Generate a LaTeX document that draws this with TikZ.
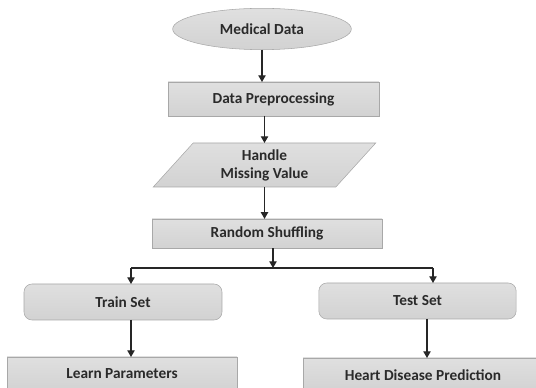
\documentclass[tikz,border=0pt]{standalone}
\usepackage{fontspec}
\setmainfont{Carlito}
\usetikzlibrary{arrows.meta,positioning,shapes.geometric}

\definecolor{boxfill}{HTML}{D2D2D2}
\definecolor{boxline}{HTML}{A8A8A8}
\definecolor{txt}{HTML}{2A2A2A}

\begin{document}
\begin{tikzpicture}[x=0.75pt,y=-0.75pt,
  blk/.style={draw=boxline,top color=boxfill!70,bottom color=boxfill,inner sep=0pt,outer sep=0pt,
    font=\fontsize{11.5}{13.5}\selectfont\bfseries,text=txt,align=center},
  proc/.style={blk,rectangle},
  soft/.style={blk,rectangle,rounded corners=6pt},
  term/.style={blk,ellipse},
  io/.style={blk,trapezium,trapezium left angle=52,trapezium right angle=128,trapezium stretches=true},
  arr/.style={-{Triangle[length=5pt,width=5.5pt]},line width=0.9pt,draw=black!85}]
  \clip (0,0) rectangle (536,388);
  \node[term,minimum width=134pt,minimum height=31pt] (med) at (262,29) {Medical Data};
  \node[proc,minimum width=158pt,minimum height=25.5pt] (prep) at (273.5,99) {Data Preprocessing};
  \node[io,minimum width=167pt,minimum height=33pt] (miss) at (264.5,165) {Handle\\Missing Value};
  \node[proc,minimum width=172.5pt,minimum height=22pt] (shuf) at (267,233.5) {Random Shuffling};
  \node[soft,minimum width=148.5pt,minimum height=27pt] (train) at (123,302) {Train Set};
  \node[soft,minimum width=148pt,minimum height=27pt] (test) at (417.5,301) {Test Set};
  \node[proc,minimum width=172.5pt,minimum height=25.5pt] (learn) at (122,374) {Learn Parameters};
  \node[proc,minimum width=180pt,minimum height=25.5pt] (heart) at (423,375) {Heart Disease Prediction};

  % split point
  \coordinate (jc) at (273,268);
  \coordinate (jl) at (131,268);
  \coordinate (jr) at (433,268);

  \draw[arr] (med.south) -- (med.south |- prep.north);
  \draw[arr] (prep.south -| miss.north) -- (miss.north);
  \draw[arr] (miss.south) -- (miss.south |- shuf.north);
  \draw[arr] (shuf.south -| jc) -- (jc);
  \draw[line width=0.9pt,draw=black!85] (jl) -- (jr);
  \draw[arr] (jl) -- (jl |- train.north);
  \draw[arr] (jr) -- (jr |- test.north);
  \draw[arr] (train.south -| jl) -- (jl |- learn.north);
  \draw[arr] (test.south -| 427,0) -- (427,0 |- heart.north);
\end{tikzpicture}
\end{document}
